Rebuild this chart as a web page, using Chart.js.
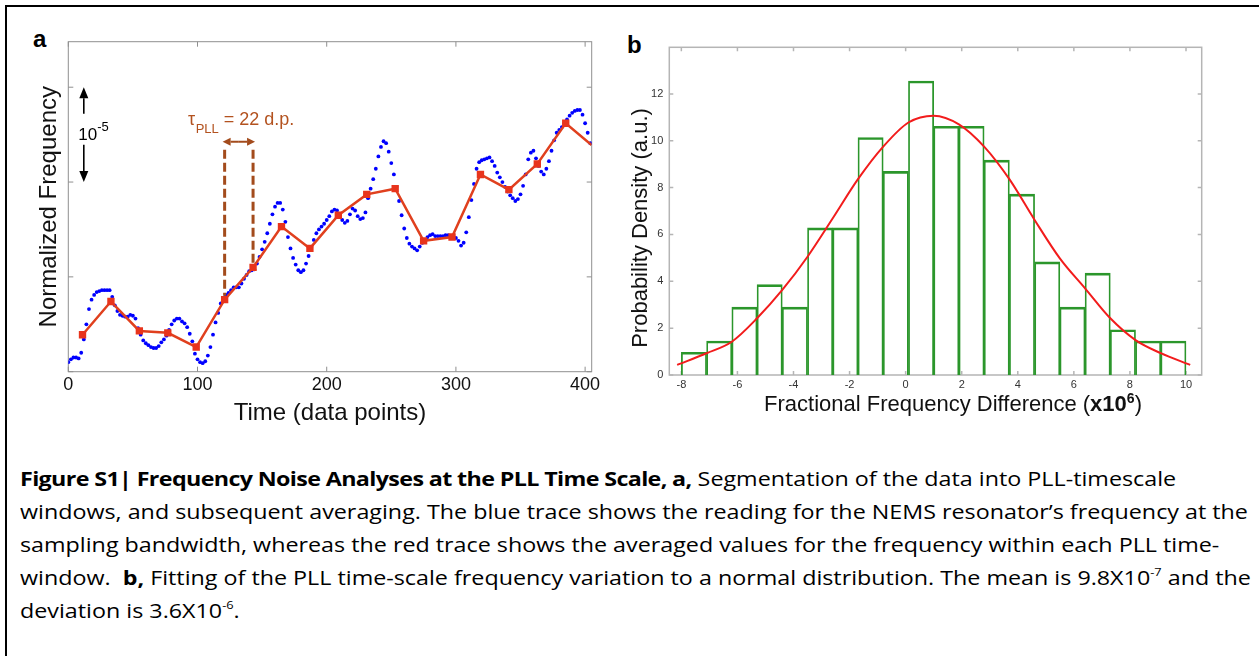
<!DOCTYPE html>
<html>
<head>
<meta charset="utf-8">
<script src="https://cdn.jsdelivr.net/npm/chart.js@4.4.1/dist/chart.umd.min.js"></script>
<style>
  html, body { margin: 0; padding: 0; background: #fff; }
  body { width: 1259px; height: 656px; position: relative; overflow: hidden; font-family: "Liberation Sans", Arial, sans-serif; color: #111; }
  .frame { position: absolute; left: 5px; top: 5px; width: 1300px; height: 700px; border-top: 2px solid #000; border-left: 2px solid #000; }
  #wrapA { position: absolute; left: 0; top: 0; width: 620px; height: 440px; }
  #wrapB { position: absolute; left: 620px; top: 0; width: 630px; height: 440px; }
  .panel { position: absolute; font: bold 24px "Liberation Sans", Arial, sans-serif; line-height: 24px; color: #000; }
  .ttl { position: absolute; font-size: 22px; line-height: 26px; text-align: center; white-space: nowrap; color: #111; }
  .ttl sup { font-size: 14px; line-height: 0; vertical-align: 8px; }
  #caption { position: absolute; left: 20px; top: 462px; font-family: "Open Sans", sans-serif; font-size: 20px; line-height: 33px; color: #000; transform-origin: 0 0; }
  #caption .ln { white-space: nowrap; width: max-content; }
  #caption .head { letter-spacing: -0.55px; }
  #caption sup { font-size: 11px; line-height: 0; vertical-align: 9px; }
</style>
</head>
<body>
<div class="frame"></div>
<div class="panel" style="left:33px; top:27px;">a</div>
<div class="panel" style="left:627px; top:33px;">b</div>
<div id="wrapA"><canvas id="chartA" width="620" height="440"></canvas></div>
<div id="wrapB"><canvas id="chartB" width="630" height="440"></canvas></div>
<div class="ttl" style="left:490px; top:215px; width:300px; transform: rotate(-90deg);">Probability Density (a.u.)</div>
<div class="ttl" style="left:703px; top:391px; width:500px;">Fractional Frequency Difference (<b>x10<sup>6</sup></b>)</div>
<div id="caption">
  <div class="ln"><b class="head">Figure S1| Frequency Noise Analyses at the PLL Time Scale, a,</b> Segmentation of the data into PLL-timescale</div>
  <div class="ln">windows, and subsequent averaging. The blue trace shows the reading for the NEMS resonator’s frequency at the</div>
  <div class="ln">sampling bandwidth, whereas the red trace shows the averaged values for the frequency within each PLL time-</div>
  <div class="ln">window.&nbsp; <b>b,</b> Fitting of the PLL time-scale frequency variation to a normal distribution. The mean is 9.8X10<sup>-7</sup> and the</div>
  <div class="ln">deviation is 3.6X10<sup>-6</sup>.</div>
</div>
<script>
// ---- panel a: frequency readings (one dot every 2 data points) ----
const SAMPLE_STEP = 2;
const reading = [
  0.10,0.13,0.15,0.15,0.14,0.20,0.34,0.50,0.66,0.76,
  0.81,0.84,0.85,0.86,0.86,0.86,0.86,0.79,0.70,0.64,
  0.60,0.59,0.58,0.58,0.60,0.59,0.56,0.46,0.39,0.33,
  0.30,0.28,0.26,0.25,0.25,0.27,0.31,0.34,0.38,0.44,
  0.50,0.54,0.56,0.56,0.53,0.51,0.47,0.40,0.32,0.19,
  0.13,0.10,0.09,0.11,0.17,0.26,0.39,0.52,0.62,0.72,
  0.78,0.81,0.83,0.86,0.89,0.89,0.89,0.93,0.98,1.02,
  1.06,1.07,1.08,1.14,1.21,1.29,1.37,1.46,1.56,1.66,
  1.74,1.78,1.78,1.71,1.58,1.42,1.30,1.20,1.13,1.07,
  1.05,1.07,1.14,1.22,1.31,1.39,1.46,1.50,1.53,1.56,
  1.60,1.64,1.69,1.71,1.70,1.64,1.60,1.57,1.59,1.66,
  1.72,1.70,1.64,1.61,1.62,1.68,1.83,1.93,2.03,2.14,
  2.27,2.37,2.43,2.41,2.32,2.20,2.08,1.95,1.80,1.65,
  1.51,1.41,1.35,1.32,1.30,1.28,1.32,1.36,1.38,1.42,
  1.44,1.45,1.43,1.43,1.43,1.43,1.44,1.44,1.43,1.42,
  1.41,1.38,1.33,1.36,1.47,1.63,1.81,1.98,2.14,2.21,
  2.23,2.24,2.25,2.26,2.22,2.17,2.10,2.05,2.00,1.95,
  1.90,1.86,1.83,1.80,1.82,1.87,1.96,2.08,2.24,2.31,
  2.33,2.25,2.17,2.11,2.08,2.14,2.22,2.33,2.44,2.52,
  2.55,2.58,2.62,2.66,2.70,2.73,2.75,2.76,2.76,2.71,
  2.62,2.52,2.41
];
// PLL-window averages (22 d.p. windows)
const windowTime = [11,33,55,77,99,121,143,165,187,209,231,253,275,297,319,341,363,385,405];
const windowMean = [0.39,0.74,0.43,0.41,0.26,0.76,1.10,1.53,1.30,1.65,1.87,1.93,1.38,1.42,2.08,1.92,2.19,2.62,2.39];
const xTicksA = [0, 100, 200, 300, 400];

// ---- panel b: histogram + normal fit ----
const binCenter = [-7.55,-6.65,-5.75,-4.85,-3.95,-3.05,-2.15,-1.25,-0.35,0.55,1.45,2.35,3.25,4.15,5.05,5.95,6.85,7.75,8.65,9.55];
const density   = [0.97,1.45,2.90,3.86,2.90,6.28,6.28,10.14,8.69,12.55,10.62,10.62,9.17,7.72,4.83,2.90,4.35,1.93,1.45,1.45];
const fitX = [-8.15,-7.1,-6.2,-5.3,-4.4,-3.5,-2.6,-1.7,-0.8,0.1,1.0,1.9,2.8,3.7,4.6,5.5,6.4,7.3,8.2,9.1,10.15];
const fitY = [0.43,0.93,1.42,2.42,3.63,5.05,6.69,8.36,9.75,10.78,11.07,10.70,9.75,8.36,6.62,4.98,3.70,2.42,1.49,0.93,0.43];

// annotation anchors (data units of panel a)
const SCALE_BAR_X = 12, SCALE_BAR_FROM = 2, SCALE_BAR_TO = 3;
const DASH_TOP = 2.34, ARROW_Y = 2.425, TAU_X = 92.7, TAU_Y = 2.6;

Chart.defaults.font.family = '"Liberation Sans", Arial, sans-serif';
Chart.defaults.color = '#111';

const boxTicks = {
  id: 'boxTicks',
  beforeDatasetsDraw(chart, args, o) {
    const {ctx, chartArea: a, scales} = chart;
    ctx.save();
    ctx.strokeStyle = o.color;
    ctx.lineWidth = o.width;
    ctx.strokeRect(a.left, a.top, a.right - a.left, a.bottom - a.top);
    ctx.beginPath();
    scales.x.ticks.forEach(t => {
      const p = scales.x.getPixelForValue(t.value);
      ctx.moveTo(p, a.bottom); ctx.lineTo(p, a.bottom - o.len);
      ctx.moveTo(p, a.top); ctx.lineTo(p, a.top + o.len);
    });
    scales.y.ticks.forEach(t => {
      const p = scales.y.getPixelForValue(t.value);
      ctx.moveTo(a.left, p); ctx.lineTo(a.left + o.len, p);
      ctx.moveTo(a.right, p); ctx.lineTo(a.right - o.len, p);
    });
    ctx.stroke();
    ctx.restore();
  }
};

function arrow(ctx, x1, y1, x2, y2, half, head) {
  const ang = Math.atan2(y2 - y1, x2 - x1);
  const bx = x2 - Math.cos(ang) * head, by = y2 - Math.sin(ang) * head;
  ctx.beginPath();
  ctx.moveTo(x1, y1); ctx.lineTo(bx, by);
  ctx.stroke();
  ctx.beginPath();
  ctx.moveTo(x2, y2);
  ctx.lineTo(bx + Math.sin(ang) * half, by - Math.cos(ang) * half);
  ctx.lineTo(bx - Math.sin(ang) * half, by + Math.cos(ang) * half);
  ctx.closePath();
  ctx.fill();
}

const annotA = {
  id: 'annotA',
  afterDatasetsDraw(chart) {
    const {ctx, scales: {x, y}} = chart;
    ctx.save();
    // scale bar: one y division = 10^-5
    const bx = x.getPixelForValue(SCALE_BAR_X);
    const yTop = y.getPixelForValue(SCALE_BAR_TO), yBot = y.getPixelForValue(SCALE_BAR_FROM);
    const mid = (yTop + yBot) / 2;
    ctx.strokeStyle = '#000'; ctx.fillStyle = '#000'; ctx.lineWidth = 1.6;
    arrow(ctx, bx, mid - 21, bx, yTop, 4.5, 11);
    arrow(ctx, bx, mid + 10, bx, yBot, 4.5, 11);
    ctx.font = '17px "Liberation Sans"';
    ctx.fillText('10', bx - 5.5, mid + 5.5);
    const w10 = ctx.measureText('10').width;
    ctx.font = '13px "Liberation Sans"';
    ctx.fillText('-5', bx - 5.5 + w10, mid - 3.5);

    // PLL window markers
    const wx0 = x.getPixelForValue(windowTime[5]), wx1 = x.getPixelForValue(windowTime[6]);
    const dTop = y.getPixelForValue(DASH_TOP);
    ctx.strokeStyle = '#a34b1c'; ctx.fillStyle = '#a34b1c';
    ctx.lineWidth = 3; ctx.setLineDash([9, 4]);
    ctx.beginPath();
    ctx.moveTo(wx0, dTop); ctx.lineTo(wx0, y.getPixelForValue(windowMean[5]) - 4);
    ctx.moveTo(wx1, dTop); ctx.lineTo(wx1, y.getPixelForValue(windowMean[6]) - 4);
    ctx.stroke();
    ctx.setLineDash([]);
    const ay = y.getPixelForValue(ARROW_Y), cx = (wx0 + wx1) / 2;
    ctx.lineWidth = 2;
    arrow(ctx, cx, ay, wx0 - 2, ay, 4, 8);
    arrow(ctx, cx, ay, wx1 + 2, ay, 4, 8);

    // tau label
    ctx.fillStyle = '#b3521f';
    let tx = x.getPixelForValue(TAU_X);
    const ty = y.getPixelForValue(TAU_Y);
    ctx.font = '18px "Liberation Sans"';
    ctx.fillText('τ', tx, ty);
    tx += ctx.measureText('τ').width + 0.5;
    ctx.font = '13px "Liberation Sans"';
    ctx.fillText('PLL', tx, ty + 8);
    tx += ctx.measureText('PLL').width;
    ctx.font = '18px "Liberation Sans"';
    ctx.fillText(' = 22 d.p.', tx, ty);
    ctx.restore();
  }
};

new Chart(document.getElementById('chartA'), {
  type: 'line',
  data: {
    datasets: [
      {
        label: 'PLL window average',
        data: windowTime.map((t, i) => ({x: t, y: windowMean[i]})),
        borderColor: '#e0401e',
        borderWidth: 2.5,
        tension: 0,
        pointStyle: 'rect',
        pointRadius: c => (c.raw && c.raw.x > xTicksA[xTicksA.length - 1] ? 0 : 5.2),
        pointBackgroundColor: '#e8341c',
        pointBorderWidth: 0
      },
      {
        label: 'frequency reading',
        data: reading.map((v, i) => ({x: i * SAMPLE_STEP, y: v})),
        showLine: false,
        pointRadius: 1.9,
        pointBackgroundColor: '#0000ff',
        pointBorderWidth: 0
      }
    ]
  },
  options: {
    responsive: false,
    animation: false,
    events: [],
    layout: {padding: {top: 41.7, right: 28.3, left: 0, bottom: 0}},
    plugins: {
      legend: {display: false},
      tooltip: {enabled: false},
      boxTicks: {color: '#8f8f8f', width: 1, len: 5}
    },
    scales: {
      x: {
        type: 'linear', min: 0, max: 405.1,
        afterFit: s => { s.height = 68.3; },
        grid: {display: false, drawTicks: false},
        border: {display: false},
        afterBuildTicks: s => { s.ticks = xTicksA.map(v => ({value: v})); },
        ticks: {padding: 3, color: '#111', font: {size: 18}, maxRotation: 0, autoSkip: false},
        title: {display: true, text: 'Time (data points)', color: '#111', font: {size: 24}, padding: {top: 0, bottom: 12.6}}
      },
      y: {
        min: 0, max: 3.48,
        afterFit: s => { s.width = 68.3; },
        grid: {display: false, drawTicks: false},
        border: {display: false},
        ticks: {display: false, stepSize: 1, includeBounds: false},
        title: {display: true, text: 'Normalized Frequency', color: '#111', font: {size: 24}, padding: {top: 35.2, bottom: 0}}
      }
    }
  },
  plugins: [boxTicks, annotA]
});

new Chart(document.getElementById('chartB'), {
  type: 'bar',
  data: {
    datasets: [
      {
        type: 'line',
        label: 'normal fit',
        data: fitX.map((v, i) => ({x: v, y: fitY[i]})),
        borderColor: '#f21c1c',
        borderWidth: 2,
        pointRadius: 0,
        cubicInterpolationMode: 'monotone'
      },
      {
        type: 'bar',
        label: 'histogram',
        data: binCenter.map((v, i) => ({x: v, y: density[i]})),
        backgroundColor: 'rgba(0,0,0,0)',
        borderColor: '#2b962b',
        borderWidth: {top: 2, left: 1.1, right: 1.1, bottom: 0},
        borderSkipped: false,
        barPercentage: 1,
        categoryPercentage: 1
      }
    ]
  },
  options: {
    responsive: false,
    animation: false,
    events: [],
    layout: {padding: {top: 47.3, right: 48.3, left: 0, bottom: 0}},
    plugins: {
      legend: {display: false},
      tooltip: {enabled: false},
      boxTicks: {color: '#b5b5b5', width: 1.5, len: 4}
    },
    scales: {
      x: {
        type: 'linear', offset: false, min: -8.43, max: 10.56,
        afterFit: s => { s.height = 65; },
        grid: {display: false, drawTicks: false},
        border: {display: false},
        ticks: {stepSize: 2, includeBounds: false, padding: 3.5, color: '#333', font: {size: 11}, maxRotation: 0, autoSkip: false}
      },
      y: {
        min: 0, max: 13.99,
        afterFit: s => { s.width = 49.3; },
        grid: {display: false, drawTicks: false},
        border: {display: false},
        ticks: {stepSize: 2, includeBounds: false, padding: 6, color: '#333', font: {size: 11}}
      }
    }
  },
  plugins: [boxTicks]
});

// stretch the caption so its second line spans the same width as in the reference
const caption = document.getElementById('caption');
const ref = caption.querySelectorAll('.ln')[1];
const stretch = 1228 / ref.getBoundingClientRect().width;
caption.style.transform = 'scaleX(' + stretch.toFixed(4) + ')';
</script>
</body>
</html>
